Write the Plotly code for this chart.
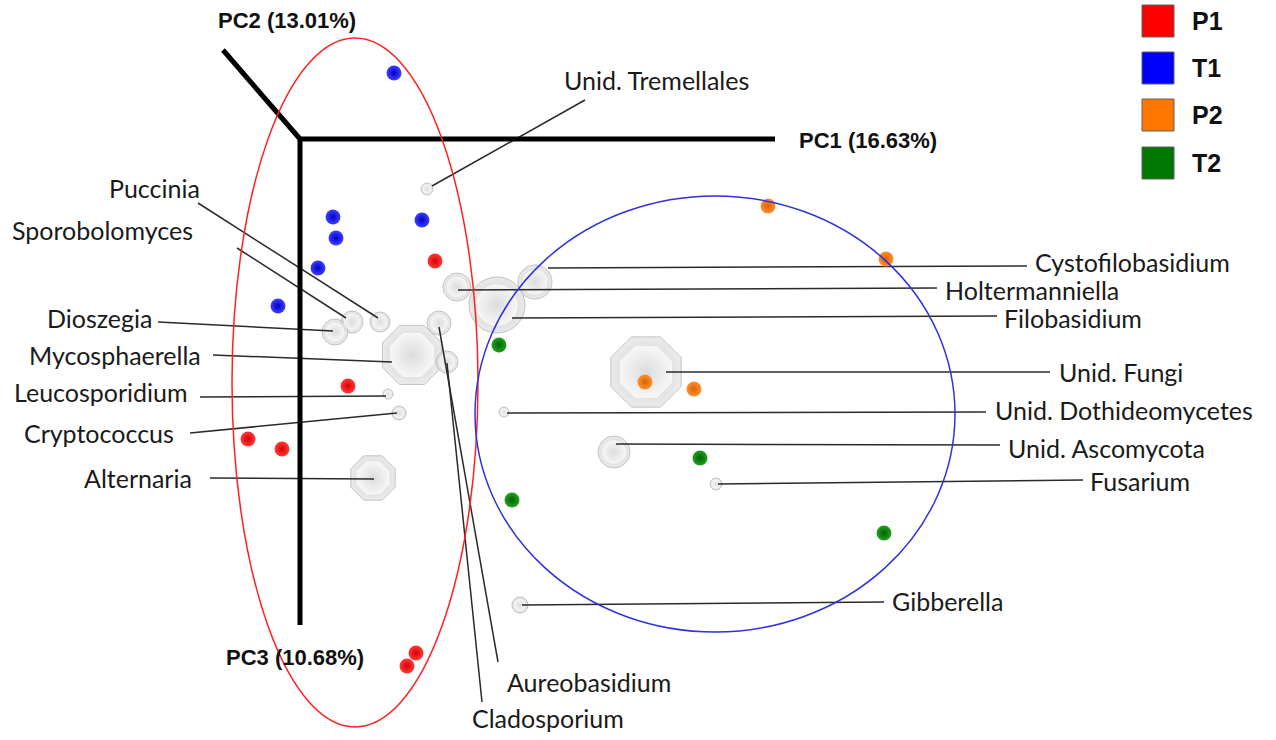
import plotly.graph_objects as go

# ---- sample scores (projected positions on the 3-D PCA view) ----
groups = ["P1", "T1", "P2", "T2"]
p1_x = [435, 348, 248, 282, 416, 407]
p1_y = [261, 386, 439, 449, 653, 666]
t1_x = [394, 333, 336, 422, 318, 278]
t1_y = [73, 217, 238, 220, 268, 306]
p2_x = [768, 886, 645, 694]
p2_y = [206, 259, 382, 389]
t2_x = [499, 700, 512, 884]
t2_y = [345, 458, 500, 533]

# ---- taxa (biplot spheres) ----
taxa = ["Unid. Tremellales", "Puccinia", "Sporobolomyces", "Dioszegia",
        "Mycosphaerella", "Leucosporidium", "Cryptococcus", "Alternaria",
        "Aureobasidium", "Cladosporium", "Cystofilobasidium", "Holtermanniella",
        "Filobasidium", "Unid. Fungi", "Unid. Dothideomycetes", "Unid. Ascomycota",
        "Fusarium", "Gibberella"]
taxa_x = [427, 380, 352, 335, 412, 388, 399, 373, 439, 447, 535, 457, 497, 646, 504, 614, 716, 520]
taxa_y = [189, 322, 322, 332, 355, 394, 413, 478, 323, 362, 282, 287, 305, 372, 412, 452, 484, 605]
taxa_size = [12, 20, 22, 26, 64, 10, 14, 48, 24, 22, 34, 28, 56, 76, 10, 32, 12, 16]
label_x = [562, 107, 10, 45, 27, 12, 22, 82, 505, 470, 1033, 943, 1002, 1057, 993, 1006, 1088, 890]
label_y = [80, 188, 230, 318, 355, 392, 433, 478, 682, 718, 262, 290, 318, 372, 410, 448, 481, 601]
line_x0 = [432, 198, 237, 158, 213, 200, 190, 210, 439, 447, 548, 458, 512, 666, 507, 616, 718, 522]
line_y0 = [186, 203, 248, 322, 355, 397, 433, 478, 327, 363, 268, 290, 318, 372, 413, 444, 484, 605]
line_x1 = [585, 378, 346, 333, 392, 386, 397, 374, 498, 482, 1027, 937, 997, 1050, 986, 1000, 1083, 884]
line_y1 = [100, 318, 318, 331, 362, 396, 413, 479, 662, 702, 266, 288, 316, 372, 412, 445, 480, 602]

# ---- PCA axes ----
axis_names = ["PC1 (16.63%)", "PC2 (13.01%)", "PC3 (10.68%)"]
origin = (300, 139)
axis_end_x = [775, 223, 300]
axis_end_y = [139, 50, 625]
axis_label_x = [868, 287, 295]
axis_label_y = [140, 20, 657]

W, H = 1276, 740

fig = go.Figure()

# spheres: outer shaded body + inner highlight
big = {"Mycosphaerella", "Alternaria", "Unid. Fungi"}
symbols = ["octagon" if t in big else "circle" for t in taxa]
fig.add_trace(go.Scatter(
    x=taxa_x, y=taxa_y, mode="markers", hoverinfo="text", text=taxa,
    marker=dict(size=taxa_size, color="#e2e2e2", symbol=symbols,
                gradient=dict(type="radial", color="#b4b4b4"),
                line=dict(color="#a9a9a9", width=1)),
    showlegend=False))
fig.add_trace(go.Scatter(
    x=taxa_x, y=taxa_y, mode="markers", hoverinfo="skip",
    marker=dict(size=[s * 0.74 for s in taxa_size], color="#ffffff", symbol=symbols,
                gradient=dict(type="radial", color="#e4e4e4"),
                line=dict(width=0)),
    showlegend=False))

# leader lines
lx, ly = [], []
for a, b, c, d in zip(line_x0, line_y0, line_x1, line_y1):
    lx += [a, c, None]
    ly += [b, d, None]
fig.add_trace(go.Scatter(x=lx, y=ly, mode="lines", hoverinfo="skip",
                         line=dict(color="#2a2a2a", width=1.5), showlegend=False))

# axes
axx, axy = [], []
for ex, ey in zip(axis_end_x, axis_end_y):
    axx += [origin[0], ex, None]
    axy += [origin[1], ey, None]
fig.add_trace(go.Scatter(x=axx, y=axy, mode="lines", hoverinfo="skip",
                         line=dict(color="#000000", width=5), showlegend=False))

# sample points
colors = {"P1": ("#ff3a3a", "#d80000"), "T1": ("#4040ff", "#0000c8"),
          "P2": ("#ff9030", "#d86400"), "T2": ("#22a022", "#006400")}
legend_fill = {"P1": "#ff0000", "T1": "#0000ff", "P2": "#ff7700", "T2": "#007700"}
for g, xs, ys in zip(groups, [p1_x, t1_x, p2_x, t2_x], [p1_y, t1_y, p2_y, t2_y]):
    c0, c1 = colors[g]
    fig.add_trace(go.Scatter(
        x=xs, y=ys, mode="markers", name=g,
        marker=dict(size=15, color=c0, gradient=dict(type="radial", color=c1),
                    line=dict(width=0)),
        showlegend=False))

shapes = [
    dict(type="circle", xref="x", yref="y", x0=232, x1=478, y0=38, y1=727,
         line=dict(color="#ff2020", width=1.5), layer="above"),
    dict(type="circle", xref="x", yref="y", x0=475, x1=955, y0=196, y1=632,
         line=dict(color="#3030e0", width=1.5), layer="above"),
]
annotations = []
for t, x, y in zip(taxa, label_x, label_y):
    annotations.append(dict(x=x, y=y, text=t, showarrow=False, xanchor="left",
                            yanchor="middle", xref="x", yref="y",
                            font=dict(family="Lato", size=25, color="#1a1a1a")))
for t, x, y in zip(axis_names, axis_label_x, axis_label_y):
    annotations.append(dict(x=x, y=y, text="<b>" + t + "</b>", showarrow=False,
                            xanchor="center", yanchor="middle", xref="x", yref="y",
                            font=dict(family="Liberation Sans", size=22, color="#111111")))

# legend (boxes + labels)
leg_y = [21, 68, 115, 163]
for g, y in zip(groups, leg_y):
    shapes.append(dict(type="rect", xref="x", yref="y", x0=1142, x1=1174,
                       y0=y - 16, y1=y + 16, fillcolor=legend_fill[g],
                       line=dict(color="#606060", width=1)))
    annotations.append(dict(x=1190, y=y, text="<b>" + g + "</b>", showarrow=False,
                            xanchor="left", yanchor="middle", xref="x", yref="y",
                            font=dict(family="Liberation Sans", size=25, color="#111111")))

fig.update_layout(
    width=W, height=H, margin=dict(l=0, r=0, t=0, b=0),
    paper_bgcolor="white", plot_bgcolor="white",
    xaxis=dict(range=[0, W], visible=False, fixedrange=True),
    yaxis=dict(range=[H, 0], visible=False, fixedrange=True),
    shapes=shapes, annotations=annotations, showlegend=False)

fig.write_html("out.html", config={"displayModeBar": False},
               post_script="document.body.style.margin='0';document.body.style.overflow='hidden';")
